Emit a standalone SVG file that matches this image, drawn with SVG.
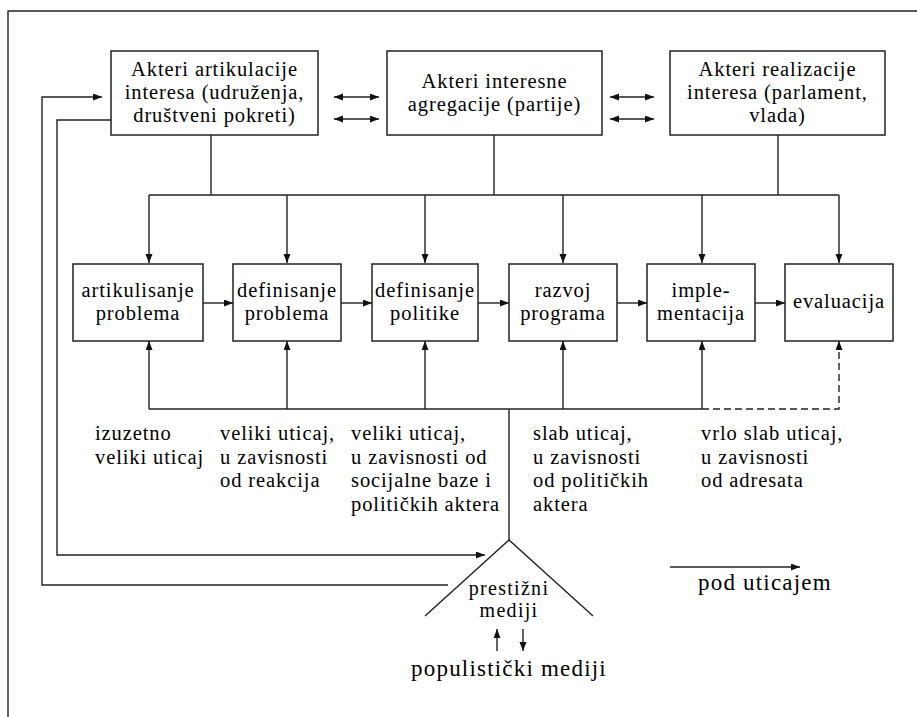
<svg xmlns="http://www.w3.org/2000/svg" width="917" height="717" viewBox="0 0 917 717">
<style>
.box{fill:#fff;stroke:#222;stroke-width:1.5}
.ln{fill:none;stroke:#222;stroke-width:1.4}
.ar{marker-end:url(#ah)}
.dbl{marker-start:url(#ah);marker-end:url(#ah)}
text{font-family:'Liberation Serif','Times New Roman',serif;font-size:20.5px;letter-spacing:0.9px;fill:#000}
.c{text-anchor:middle}
.big{font-size:23px;letter-spacing:1.2px}
.med{font-size:20px;letter-spacing:1.3px}
</style>
<defs>
<marker id="ah" markerUnits="userSpaceOnUse" markerWidth="10" markerHeight="8" refX="9" refY="3.5" orient="auto-start-reverse">
<path d="M0,0 L9,3.5 L0,7 z" fill="#111"/>
</marker>
</defs>
<rect width="917" height="717" fill="#fff"/>
<path class="ln" d="M8,717 V11 H917"/>

<g id="connectors">
<line class="ln dbl" x1="334" y1="97" x2="379" y2="97"/>
<line class="ln dbl" x1="334" y1="119" x2="379" y2="119"/>
<line class="ln dbl" x1="610" y1="97" x2="654" y2="97"/>
<line class="ln dbl" x1="610" y1="119" x2="654" y2="119"/>
<line class="ln" x1="211" y1="135" x2="211" y2="195"/>
<line class="ln" x1="494" y1="135" x2="494" y2="195"/>
<line class="ln" x1="778" y1="135" x2="778" y2="195"/>
<line class="ln" x1="149" y1="195" x2="839" y2="195"/>
<line class="ln ar" x1="149" y1="195" x2="149" y2="263"/>
<line class="ln ar" x1="287" y1="195" x2="287" y2="263"/>
<line class="ln ar" x1="425" y1="195" x2="425" y2="263"/>
<line class="ln ar" x1="563" y1="195" x2="563" y2="263"/>
<line class="ln ar" x1="702" y1="195" x2="702" y2="263"/>
<line class="ln ar" x1="839" y1="195" x2="839" y2="263"/>
<line class="ln ar" x1="203" y1="303" x2="233" y2="303"/>
<line class="ln ar" x1="341" y1="303" x2="372" y2="303"/>
<line class="ln ar" x1="478" y1="303" x2="509" y2="303"/>
<line class="ln ar" x1="617" y1="303" x2="647" y2="303"/>
<line class="ln ar" x1="755" y1="303" x2="785" y2="303"/>
<line class="ln" x1="149" y1="409" x2="702" y2="409"/>
<line class="ln ar" x1="149" y1="409" x2="149" y2="341"/>
<line class="ln ar" x1="287" y1="409" x2="287" y2="341"/>
<line class="ln ar" x1="425" y1="409" x2="425" y2="341"/>
<line class="ln ar" x1="563" y1="409" x2="563" y2="341"/>
<line class="ln ar" x1="702" y1="409" x2="702" y2="341"/>
<path class="ln ar" d="M702,409 H839 V341" stroke-dasharray="7,4"/>
<line class="ln" x1="509" y1="409" x2="509" y2="540"/>
<path class="ln ar" d="M448,585 H42 V97 H102"/>
<path class="ln ar" d="M111,120 H57 V555 H485"/>
<line class="ln ar" x1="497" y1="651" x2="497" y2="629"/>
<line class="ln ar" x1="523" y1="629" x2="523" y2="651"/>
<line class="ln ar" x1="670" y1="567" x2="800" y2="567"/>
</g>

<g id="n-artikulacija">
<rect class="box" x="111" y="51" width="207" height="84"/>
<text class="c" x="214.5" y="76">Akteri artikulacije</text>
<text class="c" x="214.5" y="99">interesa (udruženja,</text>
<text class="c" x="214.5" y="122">društveni pokreti)</text>
</g>
<g id="n-agregacija">
<rect class="box" x="387" y="51" width="215" height="84"/>
<text class="c" x="494.5" y="88">Akteri interesne</text>
<text class="c" x="494.5" y="111">agregacije (partije)</text>
</g>
<g id="n-realizacija">
<rect class="box" x="670" y="51" width="215" height="84"/>
<text class="c" x="777.5" y="76">Akteri realizacije</text>
<text class="c" x="777.5" y="99">interesa (parlament,</text>
<text class="c" x="777.5" y="122">vlada)</text>
</g>

<g id="p1">
<rect class="box" x="73" y="264" width="130" height="77"/>
<text class="c" x="138" y="297">artikulisanje</text>
<text class="c" x="138" y="320">problema</text>
</g>
<g id="p2">
<rect class="box" x="233" y="264" width="108" height="77"/>
<text class="c" x="287" y="297">definisanje</text>
<text class="c" x="287" y="320">problema</text>
</g>
<g id="p3">
<rect class="box" x="372" y="264" width="106" height="77"/>
<text class="c" x="425" y="297">definisanje</text>
<text class="c" x="425" y="320">politike</text>
</g>
<g id="p4">
<rect class="box" x="509" y="264" width="108" height="77"/>
<text class="c" x="563" y="297">razvoj</text>
<text class="c" x="563" y="320">programa</text>
</g>
<g id="p5">
<rect class="box" x="647" y="264" width="108" height="77"/>
<text class="c" x="701" y="297">imple-</text>
<text class="c" x="701" y="320">mentacija</text>
</g>
<g id="p6">
<rect class="box" x="785" y="264" width="108" height="77"/>
<text class="c" x="839" y="308">evaluacija</text>
</g>

<g id="labels">
<text x="95" y="440">izuzetno</text>
<text x="95" y="463.5">veliki uticaj</text>
<text x="220" y="440">veliki uticaj,</text>
<text x="220" y="463.5">u zavisnosti</text>
<text x="220" y="487">od reakcija</text>
<text x="351" y="440">veliki uticaj,</text>
<text x="351" y="463.5">u zavisnosti od</text>
<text x="351" y="487">socijalne baze i</text>
<text x="351" y="510.5">političkih aktera</text>
<text x="533" y="440">slab uticaj,</text>
<text x="533" y="463.5">u zavisnosti</text>
<text x="533" y="487">od političkih</text>
<text x="533" y="510.5">aktera</text>
<text x="701" y="440">vrlo slab uticaj,</text>
<text x="701" y="463.5">u zavisnosti</text>
<text x="701" y="487">od adresata</text>
</g>

<g id="mediji">
<polyline class="ln" points="425,616 509,540 593,616"/>
<text class="c med" x="509" y="595">prestižni</text>
<text class="c med" x="509" y="617">mediji</text>
</g>
<g id="populisticki">
<text class="c big" x="509" y="676">populistički mediji</text>
</g>
<g id="legend">
<text class="big" x="698" y="590">pod uticajem</text>
</g>
</svg>
